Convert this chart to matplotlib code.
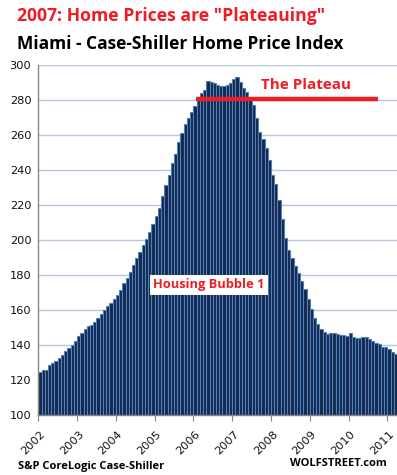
import matplotlib
matplotlib.use("Agg")
import matplotlib.pyplot as plt
import matplotlib.transforms as mtransforms
import numpy as np

# Monthly Case-Shiller index, Miami, Jan 2002 - Mar 2011
v2002 = [124.7, 125.7, 126.0, 128.6, 129.7, 130.8, 132.4, 134.1, 136.4, 138.1, 140.0, 142.3]
v2003 = [145.1, 146.9, 149.0, 150.9, 151.7, 153.0, 155.2, 157.7, 160.0, 162.3, 164.2, 166.1]
v2004 = [168.6, 171.4, 175.2, 178.5, 181.5, 185.7, 189.5, 193.3, 197.1, 200.4, 204.8, 209.0]
v2005 = [213.6, 218.1, 225.1, 231.4, 237.1, 243.8, 249.3, 255.9, 261.0, 266.2, 269.7, 273.0]
v2006 = [276.6, 280.0, 283.8, 286.0, 290.9, 290.5, 289.7, 288.6, 287.8, 287.8, 288.6, 289.7]
v2007 = [292.0, 293.0, 290.5, 287.0, 284.4, 280.0, 277.0, 269.8, 261.6, 257.7, 252.6, 245.5]
v2008 = [237.1, 232.0, 222.9, 211.8, 201.0, 194.3, 189.5, 185.1, 181.1, 176.6, 171.8, 166.1]
v2009 = [160.4, 155.2, 151.8, 149.0, 147.5, 146.3, 146.7, 146.7, 146.2, 145.7, 145.7, 145.3]
v2010 = [146.7, 144.8, 143.8, 143.8, 144.4, 144.4, 143.2, 142.5, 141.3, 140.4, 138.7, 138.7]
v2011 = [137.5, 136.2, 134.6]
values = v2002 + v2003 + v2004 + v2005 + v2006 + v2007 + v2008 + v2009 + v2010 + v2011

year_labels = ["2002", "2003", "2004", "2005", "2006", "2007", "2008", "2009", "2010", "2011"]
y_ticks = [100, 120, 140, 160, 180, 200, 220, 240, 260, 280, 300]

plateau_level = 280.3
plateau_start = 48.8
plateau_end = 105.0

title1 = '2007: Home Prices are "Plateauing"'
title2 = "Miami - Case-Shiller Home Price Index"
source = "S&P CoreLogic Case-Shiller"
brand = "WOLFSTREET.com"

W, H = 397, 475
fig = plt.figure(figsize=(W / 100, H / 100), dpi=100)
ax = fig.add_axes([38.3 / W, 1 - 415 / H, (W - 38.3) / W, 350 / H])

x = np.arange(len(values))
ax.bar(x + 0.5, values, width=1.0, color="#13284A", edgecolor="#5080BE", linewidth=0.8, zorder=2)

ax.set_ylim(100, 300)
ax.set_xlim(0, len(values))
ax.set_yticks(y_ticks)
ax.set_yticklabels([str(t) for t in y_ticks], fontsize=8.2, family="DejaVu Sans", color="#111111")
ax.yaxis.grid(True, color="#B3C7E0", linewidth=1.0, zorder=0)
ax.set_axisbelow(True)
ax.tick_params(axis="y", length=0, pad=5)

ax.set_xticks(np.arange(len(year_labels)) * 12)
ax.set_xticklabels(year_labels, rotation=45, ha="right", rotation_mode="anchor",
                   fontsize=8.2, family="DejaVu Sans", color="#111111")
ax.tick_params(axis="x", length=4, color="#868686", pad=3)
offset = mtransforms.ScaledTranslation(1.5 / 100, -4 / 100, fig.dpi_scale_trans)
for lbl in ax.get_xticklabels():
    lbl.set_transform(lbl.get_transform() + offset)

for s in ["top", "right"]:
    ax.spines[s].set_visible(False)
for s in ["left", "bottom"]:
    ax.spines[s].set_color("#868686")
    ax.spines[s].set_linewidth(1.0)

# plateau line and label
ax.plot([plateau_start, plateau_end], [plateau_level, plateau_level], color="#EE1C25",
        linewidth=3.2, solid_capstyle="butt", zorder=4)
ax.text(82.8, 288.6, "The Plateau", color="#EE1C25", fontsize=11, fontweight="bold",
        family="Open Sans", ha="center", va="center", zorder=5)

ax.text(52.8, 174.3, "Housing Bubble 1", color="#EE1C25", fontsize=9.3, fontweight="bold",
        family="Open Sans", ha="center", va="center", zorder=5,
        bbox=dict(boxstyle="square,pad=0.25", facecolor="white", edgecolor="none"))

fig.text(17 / W, 1 - 16 / H, title1, color="#EE1C25", fontsize=12.7, fontweight="bold",
         family="Open Sans", ha="left", va="center")
fig.text(17 / W, 1 - 44 / H, title2, color="black", fontsize=12.5, fontweight="bold",
         family="Open Sans", ha="left", va="center")
fig.text(18 / W, 1 - 467 / H, source, color="black", fontsize=8, fontweight="bold",
         family="Open Sans", ha="left", va="center")
fig.text(387 / W, 1 - 463 / H, brand, color="black", fontsize=8, fontweight="bold",
         family="Open Sans", ha="right", va="center")

fig.savefig("out.png", dpi=100)
